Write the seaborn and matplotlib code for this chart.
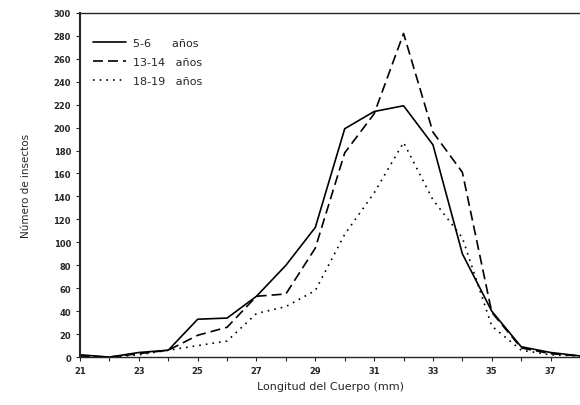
import pandas as pd
import matplotlib
matplotlib.use('Agg')
import matplotlib.pyplot as plt
import seaborn as sns

longitud = list(range(21, 39))
edad_5_6 = [2, 0, 4, 6, 33, 34, 53, 80, 113, 199, 214, 219, 185, 90, 40, 9, 4, 1]
edad_13_14 = [1, 0, 3, 6, 19, 26, 53, 55, 95, 178, 212, 282, 196, 161, 39, 8, 3, 1]
edad_18_19 = [1, 0, 2, 6, 10, 14, 38, 44, 58, 107, 143, 187, 137, 104, 27, 6, 2, 1]
etiquetas = ['5-6      años', '13-14   años', '18-19   años']

sns.set_style('ticks')
plt.rcParams['font.family'] = ['DejaVu Sans']

fig = plt.figure(figsize=(5.8, 4.06), dpi=100)
ax = fig.add_axes([0.138, 0.118, 0.862, 0.848])

series = [edad_5_6, edad_13_14, edad_18_19]
styles = ['-', (0, (6, 3)), (0, (1, 3))]
for vals, lab, ls in zip(series, etiquetas, styles):
    df = pd.DataFrame({'x': longitud, 'y': vals})
    sns.lineplot(data=df, x='x', y='y', ax=ax, color='black', lw=1.2,
                 linestyle=ls, label=lab)

ax.set_xlim(21, 38)
ax.set_ylim(0, 300)
ax.set_xticks(range(21, 39, 2))
ax.set_xticks(range(22, 39, 2), minor=True)
ax.set_yticks(range(0, 301, 20))
ax.tick_params(axis='both', labelsize=6, length=3, width=0.8)
ax.tick_params(axis='x', which='minor', length=3, width=0.8)
for t in ax.get_xticklabels() + ax.get_yticklabels():
    t.set_fontweight('bold')

ax.set_xlabel('Longitud del Cuerpo (mm)', fontsize=8)
ax.set_ylabel('Número de insectos', fontsize=7.5, labelpad=16)

ax.spines['right'].set_visible(False)
ax.spines['left'].set_linewidth(1.5)
ax.spines['top'].set_linewidth(1.0)
ax.spines['bottom'].set_linewidth(1.0)

ax.legend(loc='upper left', bbox_to_anchor=(0.005, 0.955), frameon=False,
          fontsize=8, handlelength=3, handletextpad=0.6, labelspacing=0.8)

fig.savefig('out.png', dpi=100)
